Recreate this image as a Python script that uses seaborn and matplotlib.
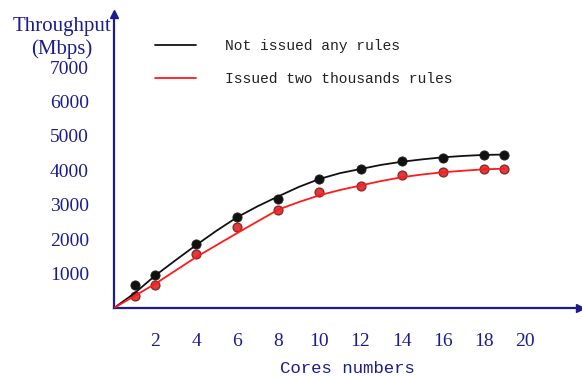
import numpy as np
import pandas as pd
import matplotlib
matplotlib.use('Agg')
import matplotlib.pyplot as plt
import seaborn as sns

# measured points
cores = [1, 2, 4, 6, 8, 10, 12, 14, 16, 18, 19]
no_rules = [660, 960, 1860, 2650, 3160, 3760, 4050, 4260, 4350, 4460, 4460]
two_k_rules = [360, 670, 1555, 2350, 2860, 3360, 3560, 3860, 3960, 4050, 4050]

# fitted curves
fit_x = [0, 1, 2, 3, 4, 5, 6, 7, 8, 9, 10, 11, 12, 13, 14, 15, 16, 17, 18, 19]
no_rules_fit = [0, 430, 940, 1390, 1830, 2250, 2640, 2960, 3245, 3520, 3750,
                3920, 4040, 4160, 4250, 4320, 4380, 4420, 4450, 4460]
two_k_fit = [0, 350, 700, 1090, 1480, 1830, 2180, 2520, 2860, 3080, 3275,
             3430, 3560, 3690, 3800, 3880, 3945, 3990, 4030, 4050]

x_ticks = [2, 4, 6, 8, 10, 12, 14, 16, 18, 20]
y_ticks = [1000, 2000, 3000, 4000, 5000, 6000, 7000]
labels = ['Not issued any rules', 'Issued two thousands rules']

navy = '#1c1c8e'

sns.set_style('white')
plt.rcParams['font.family'] = ['Liberation Serif', 'DejaVu Serif']

fig = plt.figure(figsize=(5.82, 3.76), dpi=100)
ax = fig.add_axes([0.196, 0.181, 0.801, 0.782])

pts = pd.DataFrame({'cores': cores, 'no': no_rules, 'two': two_k_rules})
fit = pd.DataFrame({'x': fit_x, 'no': no_rules_fit, 'two': two_k_fit})

sns.scatterplot(data=pts, x='cores', y='no', ax=ax, color='#111111', s=44,
                edgecolor='#222222', linewidth=0.6, zorder=2)
sns.scatterplot(data=pts, x='cores', y='two', ax=ax, color='#e23a3a', s=40,
                edgecolor='#8a2a2a', linewidth=1.0, zorder=2)
sns.lineplot(data=fit, x='x', y='no', ax=ax, color='#111111', lw=1.3,
             estimator=None, zorder=3, label=labels[0])
sns.lineplot(data=fit, x='x', y='two', ax=ax, color='#ff1a1a', lw=1.3,
             estimator=None, zorder=3, label=labels[1])

ax.set_xlim(0, 22.7)
ax.set_ylim(0, 8550)
ax.set_xticks(x_ticks)
ax.set_yticks(y_ticks)

for s in ['top', 'right']:
    ax.spines[s].set_visible(False)
for s in ['left', 'bottom']:
    ax.spines[s].set_color(navy)
    ax.spines[s].set_linewidth(1.6)

ax.tick_params(axis='x', direction='out', length=6, width=1.5, color=navy,
               labelcolor=navy, labelsize=14, pad=12)
ax.tick_params(axis='y', direction='out', length=10, width=1.5, color=navy,
               labelcolor=navy, labelsize=14, pad=8)

# arrow heads on the axes
ax.plot(1, 0, '>', color=navy, ms=6, transform=ax.get_yaxis_transform(), clip_on=False)
ax.plot(0, 1, '^', color=navy, ms=6, transform=ax.get_xaxis_transform(), clip_on=False)

ax.set_xlabel('Cores numbers', family=['Liberation Mono', 'DejaVu Sans Mono'],
              fontsize=12.5, color=navy, labelpad=8)
ax.set_ylabel('Throughput\n(Mbps)', rotation=0, fontsize=15, color=navy,
              ha='center', va='top', linespacing=1.25)
ax.yaxis.set_label_coords(-0.112, 0.99)

leg = ax.legend(loc='upper left', bbox_to_anchor=(0.088, 0.913), frameon=False,
                handlelength=2.8, handletextpad=2.0, labelspacing=1.3,
                borderpad=0, borderaxespad=0,
                prop={'family': 'Liberation Mono', 'size': 10.5})
for t in leg.get_texts():
    t.set_color('#222222')

fig.savefig('out.png', dpi=100)
